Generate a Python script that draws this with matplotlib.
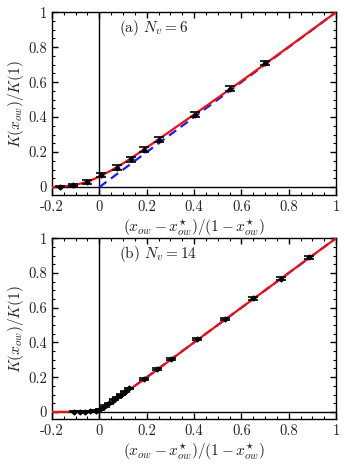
import numpy as np
import matplotlib.pyplot as plt
from matplotlib.ticker import MultipleLocator

plt.rcParams['font.family'] = 'cmr10'
plt.rcParams['mathtext.fontset'] = 'cm'
plt.rcParams['axes.unicode_minus'] = False
plt.rcParams['axes.formatter.use_mathtext'] = True

# (a) N_v = 6
xa = [-0.168, -0.111, -0.050, 0.008, 0.074, 0.133, 0.190, 0.250, 0.402, 0.550, 0.700]
ya = [0.002, 0.010, 0.029, 0.067, 0.110, 0.158, 0.213, 0.270, 0.413, 0.563, 0.708]
ea = [0.004, 0.006, 0.010, 0.012, 0.014, 0.014, 0.015, 0.015, 0.014, 0.013, 0.012]
fit_xa = [-0.2, -0.15, -0.1, -0.05, 0.0, 0.05, 0.1, 0.15, 0.2, 0.3, 0.4, 0.5, 0.6, 0.7, 0.8, 0.9, 1.0]
fit_ya = [0.0, 0.004, 0.013, 0.030, 0.060, 0.095, 0.135, 0.180, 0.226, 0.320, 0.415, 0.510, 0.606, 0.704, 0.802, 0.901, 1.0]

# (b) N_v = 14
xb = [-0.109, -0.082, -0.059, -0.038, -0.016, 0.004, 0.022, 0.039, 0.060, 0.074, 0.092, 0.108, 0.126,
      0.187, 0.243, 0.302, 0.414, 0.531, 0.651, 0.767, 0.886]
yb = [0.0, 0.0, 0.002, 0.004, 0.008, 0.016, 0.034, 0.050, 0.069, 0.084, 0.098, 0.117, 0.136,
      0.187, 0.249, 0.306, 0.420, 0.536, 0.653, 0.768, 0.889]
eb = [0.003] * 13 + [0.006] * 8
fit_xb = [-0.2, -0.1, -0.05, -0.02, 0.0, 0.02, 0.05, 0.1, 0.2, 0.4, 0.6, 0.8, 1.0]
fit_yb = [0.0, 0.001, 0.004, 0.009, 0.018, 0.032, 0.057, 0.102, 0.198, 0.400, 0.600, 0.800, 1.0]

# guide line y = x
lin_x = [0.0, 1.0]
lin_y = [0.0, 1.0]

xticks = [-0.2, 0, 0.2, 0.4, 0.6, 0.8, 1]
xticklabels = ['-0.2', '0', '0.2', '0.4', '0.6', '0.8', '1']
yticks = [0, 0.2, 0.4, 0.6, 0.8, 1]
yticklabels = ['0', '0.2', '0.4', '0.6', '0.8', '1']

fig = plt.figure(figsize=(3.61, 4.68), dpi=100)
ax1 = fig.add_axes([0.144, 0.583, 0.787, 0.391])
ax2 = fig.add_axes([0.144, 0.105, 0.787, 0.386])

panels = [
    (ax1, xa, ya, ea, fit_xa, fit_ya, r'(a) $N_v=6$', -0.046),
    (ax2, xb, yb, eb, fit_xb, fit_yb, r'(b) $N_v=14$', -0.04),
]

for ax, x, y, e, fx, fy, label, ymin in panels:
    ax.axhline(0, color='black', lw=1.0, zorder=1)
    ax.axvline(0, color='black', lw=1.0, zorder=1)
    ax.plot(lin_x, lin_y, color='#1a1aff', lw=1.6, dashes=(4, 2.5), zorder=2)
    ax.plot(fx, fy, color='#ee1111', lw=1.6, zorder=3)
    ax.errorbar(x, y, yerr=e, fmt='D', color='black', ms=2.5, capsize=3.5,
                elinewidth=1.0, capthick=1.2, zorder=4)
    ax.text(0.085, 0.91, label, fontsize=11, va='center', ha='left', color='#222222')

    ax.set_xlim(-0.2, 1.0)
    ax.set_ylim(ymin, 1.0)
    ax.set_xticks(xticks)
    ax.set_xticklabels(xticklabels)
    ax.set_yticks(yticks)
    ax.set_yticklabels(yticklabels)
    ax.xaxis.set_minor_locator(MultipleLocator(0.05))
    ax.yaxis.set_minor_locator(MultipleLocator(0.05))
    ax.tick_params(which='both', direction='in', top=True, right=True,
                   labelsize=10.5, labelcolor='#222222')
    ax.tick_params(which='major', length=4, width=1, pad=4)
    ax.tick_params(axis='y', which='major', pad=3.5)
    ax.tick_params(which='minor', length=2, width=0.8)
    for s in ax.spines.values():
        s.set_linewidth(1.0)
    ax.set_xlabel(r'$(x_{ow}-x^{\star}_{ow})/(1-x^{\star}_{ow})$', fontsize=11,
                  labelpad=2, color='#222222')
    ax.set_ylabel(r'$K(x_{ow})/K(1)$', fontsize=11, color='#222222')
    ax.yaxis.set_label_coords(-0.09, 0.5)

fig.savefig('out.png', dpi=100)
